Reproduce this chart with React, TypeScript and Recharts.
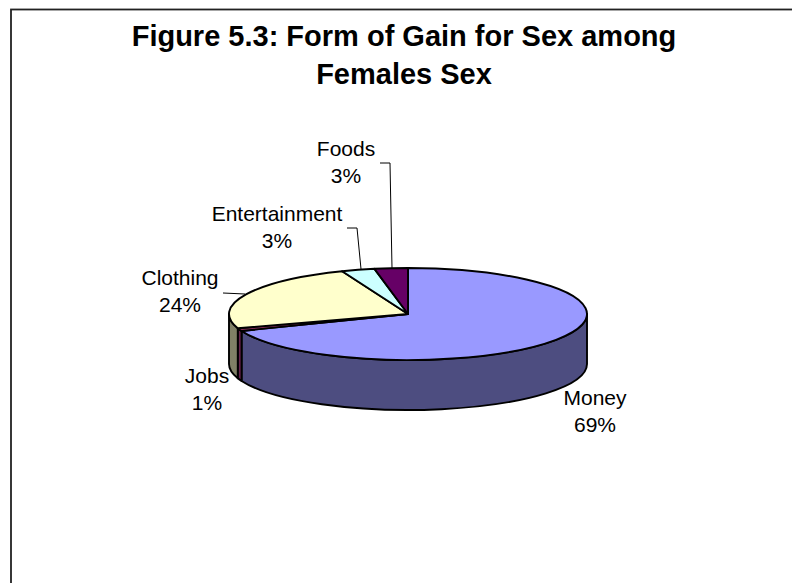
import { PieChart, Pie, Cell } from "recharts";

const categories = ["Money", "Jobs", "Clothing", "Entertainment", "Foods"];
const shares = [69, 1, 24, 3, 3];
const topColors = ["#9999FF", "#993366", "#FFFFCC", "#CCFFFF", "#660066"];
const wallColors = ["#4D4D80", "#66224D", "#808066", "#668080", "#330033"];
const titleLines = ["Figure 5.3: Form of Gain for Sex among", "Females Sex"];

const dados = categories.map((name, i) => ({ name, value: shares[i] }));

// label centres and leader lines, relative to the pie centre
const labelSpots = [
  { dx: 187, dy: 91 },
  { dx: -201, dy: 69 },
  { dx: -228, dy: -29 },
  { dx: -131, dy: -93 },
  { dx: -62, dy: -158 },
];
const leaders: ([number, number][] | null)[] = [
  null,
  null,
  [[-185, -21], [-163, -20]],
  [[-61, -86], [-51, -86], [-47, -45]],
  [[-28, -151], [-18, -151], [-16, -46]],
];

const CX = 408;
const CY = 314;
const RX = 179;
const SQUASH = 46 / 179;
const DEPTH = 50;

function point(cx: number, cy: number, r: number, deg: number) {
  const a = (deg * Math.PI) / 180;
  return { x: cx + r * Math.cos(a), y: cy - r * SQUASH * Math.sin(a) };
}

// flattened top face of a slice
function TopSlice(props: any) {
  const { cx, cy, outerRadius: r, startAngle, endAngle, fill } = props;
  const a = point(cx, cy, r, startAngle);
  const b = point(cx, cy, r, endAngle);
  const large = Math.abs(startAngle - endAngle) > 180 ? 1 : 0;
  const ry = r * SQUASH;
  return (
    <path
      d={`M${cx},${cy} L${a.x},${a.y} A${r},${ry} 0 ${large} 1 ${b.x},${b.y} Z`}
      fill={fill}
      stroke="#000"
      strokeWidth={1.9}
      strokeLinejoin="round"
    />
  );
}

// side wall, only the part of the rim facing the viewer
function WallSlice(props: any) {
  const { cx, cy, outerRadius: r, startAngle, endAngle, fill } = props;
  const hi = Math.min(startAngle, 0);
  const lo = Math.max(endAngle, -180);
  if (lo >= hi) return <g />;
  const a = point(cx, cy, r, hi);
  const b = point(cx, cy, r, lo);
  const ry = r * SQUASH;
  return (
    <path
      d={`M${a.x},${a.y} A${r},${ry} 0 0 1 ${b.x},${b.y} L${b.x},${b.y + DEPTH} A${r},${ry} 0 0 0 ${a.x},${a.y + DEPTH} Z`}
      fill={fill}
      stroke="#000"
      strokeWidth={1.9}
      strokeLinejoin="round"
    />
  );
}

function SliceLabel(props: any) {
  const { cx, cy, index, name, percent } = props;
  const spot = labelSpots[index];
  const line = leaders[index];
  const x = cx + spot.dx;
  const y = cy + spot.dy;
  return (
    <g>
      {line && (
        <polyline
          points={line.map(([px, py]) => `${cx + px},${cy + py}`).join(" ")}
          fill="none"
          stroke="#000"
          strokeWidth={1}
        />
      )}
      <text x={x} y={y} textAnchor="middle" fontSize={21} fill="#000">
        {name}
      </text>
      <text x={x} y={y + 27} textAnchor="middle" fontSize={21} fill="#000">
        {`${Math.round(percent * 100)}%`}
      </text>
    </g>
  );
}

export default function App() {
  return (
    <div
      style={{
        position: "absolute",
        left: 0,
        top: 0,
        width: 792,
        height: 583,
        background: "#fff",
        fontFamily: "'Liberation Sans', Arial, sans-serif",
        overflow: "hidden",
      }}
    >
      <PieChart width={792} height={583} margin={{ top: 0, right: 0, bottom: 0, left: 0 }}>
        <rect x={11} y={9.5} width={800} height={600} fill="none" stroke="#222" strokeWidth={1.8} />
        {titleLines.map((t, i) => (
          <text key={t} x={404} y={45.5 + i * 38.5} textAnchor="middle" fontSize={29} fontWeight="bold" fill="#000">
            {t}
          </text>
        ))}
        <Pie
          data={dados}
          dataKey="value"
          nameKey="name"
          cx={CX}
          cy={CY}
          outerRadius={RX}
          startAngle={90}
          endAngle={-270}
          paddingAngle={0}
          isAnimationActive={false}
          labelLine={false}
          shape={WallSlice}
        >
          {wallColors.map((c) => (
            <Cell key={c} fill={c} />
          ))}
        </Pie>
        <Pie
          data={dados}
          dataKey="value"
          nameKey="name"
          cx={CX}
          cy={CY}
          outerRadius={RX}
          startAngle={90}
          endAngle={-270}
          paddingAngle={0}
          isAnimationActive={false}
          labelLine={false}
          label={SliceLabel}
          shape={TopSlice}
        >
          {topColors.map((c) => (
            <Cell key={c} fill={c} />
          ))}
        </Pie>
      </PieChart>
    </div>
  );
}
